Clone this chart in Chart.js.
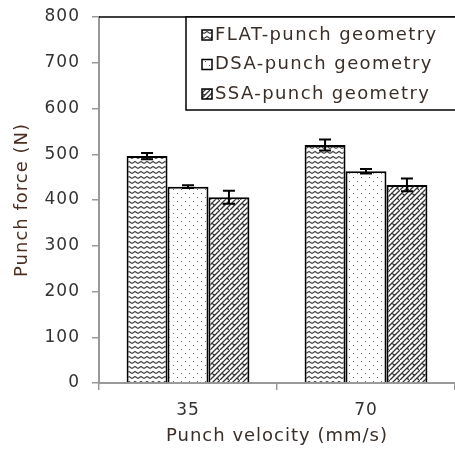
<!DOCTYPE html>
<html>
<head>
<meta charset="utf-8">
<script src="https://cdn.jsdelivr.net/npm/chart.js@4"></script>
<style>
  html, body { margin: 0; padding: 0; background: #fff; }
  #wrap { width: 455px; height: 451px; }
</style>
</head>
<body>
<div id="wrap"><canvas id="forceChart" width="455" height="451"></canvas></div>
<script>
// chart data
const velocities = ['35', '70'];
const seriesNames = ['FLAT-punch geometry', 'DSA-punch geometry', 'SSA-punch geometry'];
const flatForce = [496, 520];
const dsaForce = [429, 463];
const ssaForce = [406, 433];
const flatErr = [7, 12];
const dsaErr = [3, 5];
const ssaErr = [14, 14];

const FONT = 'DejaVu Sans';

// fill patterns
function makePattern(kind) {
    const c = document.createElement('canvas');
    const g = c.getContext('2d');
    if (kind === 'zigzag') {
        c.width = 6; c.height = 5;
        g.fillStyle = '#fff';
        g.fillRect(0, 0, 6, 5);
        g.strokeStyle = '#444';
        g.lineWidth = 1.2;
        g.beginPath();
        g.moveTo(0, 3.5); g.lineTo(3, 1.5); g.lineTo(6, 3.5);
        g.stroke();
    } else if (kind === 'dots') {
        c.width = 8; c.height = 8;
        g.fillStyle = '#fff';
        g.fillRect(0, 0, 8, 8);
        g.fillStyle = '#666';
        g.fillRect(1, 1, 1, 1);
        g.fillRect(5, 5, 1, 1);
    } else {
        c.width = 10; c.height = 10;
        g.fillStyle = '#fff';
        g.fillRect(0, 0, 10, 10);
        g.strokeStyle = '#333';
        g.lineWidth = 1.3;
        g.beginPath();
        g.moveTo(-1, 11); g.lineTo(11, -1);
        g.moveTo(4, 11); g.lineTo(11, 4);
        g.moveTo(-1, 6); g.lineTo(6, -1);
        // short cross strokes
        g.moveTo(2, 3); g.lineTo(5, 6);
        g.moveTo(7, 8); g.lineTo(9, 10);
        g.stroke();
    }
    return document.getElementById('forceChart').getContext('2d').createPattern(c, 'repeat');
}

const patterns = [makePattern('zigzag'), makePattern('dots'), makePattern('brick')];
const errors = [flatErr, dsaErr, ssaErr];

// error bars + frame + legend box
const extras = {
    id: 'extras',
    beforeDraw(chart) {
        chart.ctx.letterSpacing = '1px';
    },
    afterDatasetsDraw(chart) {
        const ctx = chart.ctx;
        const y = chart.scales.y;
        ctx.save();
        ctx.strokeStyle = '#000';
        ctx.lineWidth = 2;
        chart.data.datasets.forEach((ds, i) => {
            const meta = chart.getDatasetMeta(i);
            meta.data.forEach((bar, j) => {
                const v = ds.data[j];
                const e = errors[i][j];
                const yTop = y.getPixelForValue(v + e);
                const yBot = y.getPixelForValue(v - e);
                ctx.beginPath();
                ctx.moveTo(bar.x, yTop); ctx.lineTo(bar.x, yBot);
                ctx.moveTo(bar.x - 6, yTop); ctx.lineTo(bar.x + 6, yTop);
                ctx.moveTo(bar.x - 6, yBot); ctx.lineTo(bar.x + 6, yBot);
                ctx.stroke();
            });
        });
        ctx.restore();
    },
    afterDraw(chart) {
        const ctx = chart.ctx;
        const a = chart.chartArea;
        ctx.save();
        // top frame line
        ctx.strokeStyle = '#000';
        ctx.lineWidth = 1.5;
        ctx.beginPath();
        ctx.moveTo(a.left, a.top); ctx.lineTo(a.right + 5, a.top);
        ctx.stroke();
        // legend
        const lx = 186, ly = a.top, lw = 280, lh = 93;
        ctx.fillStyle = '#fff';
        ctx.fillRect(lx, ly, lw, lh);
        ctx.lineWidth = 1.5;
        ctx.strokeRect(lx, ly, lw, lh);
        ctx.font = '18px "' + FONT + '"';
        ctx.letterSpacing = '1.4px';
        ctx.textBaseline = 'middle';
        seriesNames.forEach((name, i) => {
            const cy = ly + 18 + i * 29.5;
            ctx.fillStyle = patterns[i];
            ctx.fillRect(202, cy - 5, 10, 10);
            ctx.strokeStyle = '#000';
            ctx.lineWidth = 1.5;
            ctx.strokeRect(202, cy - 5, 10, 10);
            ctx.fillStyle = '#3a2e28';
            ctx.fillText(name, 215, cy);
        });
        ctx.restore();
    }
};

const ctx = document.getElementById('forceChart').getContext('2d');
new Chart(ctx, {
    type: 'bar',
    data: {
        labels: velocities,
        datasets: [flatForce, dsaForce, ssaForce].map((vals, i) => ({
            label: seriesNames[i],
            data: vals,
            backgroundColor: patterns[i],
            borderColor: '#000',
            borderWidth: 2,
            borderSkipped: 'bottom',
            categoryPercentage: 0.69,
            barPercentage: 1.0
        }))
    },
    options: {
        responsive: false,
        animation: false,
        layout: { padding: { top: 17, right: 0, left: 0, bottom: 0 } },
        plugins: {
            legend: { display: false },
            tooltip: { enabled: false }
        },
        scales: {
            x: {
                offset: true,
                afterFit(s) { s.height = 68; s.paddingLeft = 0; s.paddingRight = 0; },
                grid: { offset: true, drawOnChartArea: false, drawTicks: true, tickLength: 7, color: '#999', lineWidth: 1.5 },
                border: { color: '#999', width: 2 },
                ticks: { color: '#333', padding: 10, font: { family: FONT, size: 17 } },
                title: { display: true, text: 'Punch velocity (mm/s)', color: '#3a2e28', padding: { top: 0, bottom: 4 }, font: { family: FONT, size: 18 } }
            },
            y: {
                min: 0,
                max: 800,
                afterFit(s) { s.width = 99; s.paddingTop = 0; s.paddingBottom = 0; },
                grid: { drawOnChartArea: false, drawTicks: true, tickLength: 7, color: '#999', lineWidth: 1.5 },
                border: { color: '#999', width: 2 },
                ticks: { stepSize: 100, color: '#333', padding: 12, font: { family: FONT, size: 17 } },
                title: { display: true, text: 'Punch force (N)', color: '#4a2f22', padding: { top: 12, bottom: 0 }, font: { family: FONT, size: 18 } }
            }
        }
    },
    plugins: [extras]
});
</script>
</body>
</html>
